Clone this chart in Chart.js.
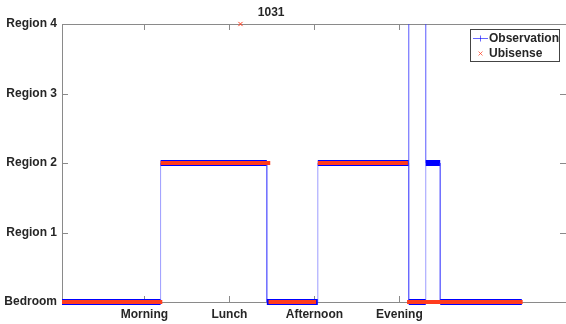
<!DOCTYPE html>
<html>
<head>
<meta charset="utf-8">
<title>1031</title>
<script src="https://cdn.jsdelivr.net/npm/chart.js@4.4.1/dist/chart.umd.min.js"></script>
<style>
  html, body { margin: 0; padding: 0; background: #fff; }
  canvas { display: block; }
</style>
</head>
<body>
<canvas id="chart" width="566" height="324"></canvas>
<script>
// y categories: Bedroom = 0 ... Region 4 = 4
const regionLabels = ['Bedroom', 'Region 1', 'Region 2', 'Region 3', 'Region 4'];
// x ticks (sample index) and their names
const periodTicks = [100, 200, 300, 400];
const periodLabels = ['Morning', 'Lunch', 'Afternoon', 'Evening'];

// Observation: corners of the step line
const obsX = [3, 119, 119, 244, 244, 304, 304, 411, 411, 411, 431, 431, 431, 448, 448, 544];
const obsY = [0, 0, 2, 2, 0, 0, 2, 2, 4, 0, 0, 4, 2, 2, 0, 0];

// Ubisense: runs of readings (start, end, region) plus one stray reading
const ubiStart = [3, 119, 246, 304, 409];
const ubiEnd = [121, 248, 302, 410, 545];
const ubiLevel = [0, 2, 0, 2, 0];
const strayX = [213];
const strayY = [4];

const FONT = "'Liberation Sans', Arial, Helvetica, sans-serif";
const TEXT = '#262626';
const BLUE = '#0000ff';
const RED = '#ff3c1e';

const obsPoints = obsX.map((x, i) => ({ x: x, y: obsY[i] }));

const ubiPoints = [];
ubiStart.forEach((s, i) => {
    ubiPoints.push({ x: s, y: ubiLevel[i] });
    ubiPoints.push({ x: ubiEnd[i], y: ubiLevel[i] });
    ubiPoints.push({ x: ubiEnd[i], y: null });
});
strayX.forEach((x, i) => ubiPoints.push({ x: x, y: strayY[i], stray: true }));

// box, inward ticks, title and legend drawn the matlab way
const frame = {
    id: 'frame',
    beforeDatasetsDraw(chart) {
        const { ctx, chartArea: a, scales: { x, y } } = chart;
        ctx.save();
        ctx.strokeStyle = '#8a8a8a';
        ctx.lineWidth = 1;
        ctx.beginPath();
        ctx.moveTo(a.right, a.top + 0.5);
        ctx.lineTo(a.left + 0.5, a.top + 0.5);
        ctx.lineTo(a.left + 0.5, a.bottom + 0.5);
        ctx.lineTo(a.right, a.bottom + 0.5);
        x.ticks.forEach(t => {
            const px = Math.round(x.getPixelForValue(t.value)) + 0.5;
            ctx.moveTo(px, a.top); ctx.lineTo(px, a.top + 6);
            ctx.moveTo(px, a.bottom); ctx.lineTo(px, a.bottom - 6);
        });
        y.ticks.forEach(t => {
            const py = Math.round(y.getPixelForValue(t.value)) + 0.5;
            ctx.moveTo(a.left, py); ctx.lineTo(a.left + 6, py);
            ctx.moveTo(a.right, py); ctx.lineTo(a.right - 6, py);
        });
        ctx.stroke();
        ctx.restore();
    },
    afterDraw(chart) {
        const { ctx, chartArea: a } = chart;
        ctx.save();
        ctx.font = 'bold 12px ' + FONT;
        ctx.fillStyle = TEXT;
        ctx.textAlign = 'center';
        ctx.textBaseline = 'middle';
        ctx.fillText('1031', a.left + (a.right - a.left) * 0.415, 13);

        // legend box
        const left = a.right - 96, top = a.top + 5;
        ctx.fillStyle = '#fff';
        ctx.fillRect(left, top, 89, 32);
        ctx.strokeStyle = '#444';
        ctx.strokeRect(left + 0.5, top + 0.5, 89, 32);

        const y1 = top + 9.5, y2 = top + 24.5, mx = left + 10.5;
        ctx.strokeStyle = 'rgba(0,0,255,0.6)';
        ctx.beginPath();
        ctx.moveTo(left + 3, y1); ctx.lineTo(left + 18, y1);
        ctx.moveTo(mx, y1 - 3); ctx.lineTo(mx, y1 + 3);
        ctx.stroke();
        ctx.strokeStyle = 'rgba(255,60,30,0.7)';
        ctx.beginPath();
        ctx.moveTo(mx - 2, y2 - 2); ctx.lineTo(mx + 2, y2 + 2);
        ctx.moveTo(mx + 2, y2 - 2); ctx.lineTo(mx - 2, y2 + 2);
        ctx.stroke();

        ctx.fillStyle = TEXT;
        ctx.textAlign = 'left';
        ctx.fillText('Observation', left + 19, y1);
        ctx.fillText('Ubisense', left + 19, y2);
        ctx.restore();
    }
};

new Chart(document.getElementById('chart'), {
    type: 'line',
    data: {
        datasets: [
            {
                label: 'Ubisense',
                data: ubiPoints,
                order: 0,
                borderColor: RED,
                borderWidth: 4,
                spanGaps: false,
                clip: false,
                pointStyle: 'crossRot',
                pointRadius: ctx => (ctx.raw && ctx.raw.stray ? 3 : 0),
                pointHoverRadius: 0,
                pointBorderColor: RED,
                pointBorderWidth: 1
            },
            {
                label: 'Observation',
                data: obsPoints,
                order: 1,
                borderColor: BLUE,
                borderWidth: 6,
                clip: false,
                pointRadius: 0,
                pointHoverRadius: 0,
                segment: {
                    // vertical jumps are the thin line, runs are the dense '+' band
                    borderWidth: c => (c.p0.parsed.x === c.p1.parsed.x ? 1 : 6),
                    borderColor: c => (c.p0.parsed.x === c.p1.parsed.x ? 'rgba(60,60,255,0.5)' : BLUE)
                }
            }
        ]
    },
    options: {
        responsive: false,
        animation: false,
        layout: { autoPadding: false, padding: { top: 24, right: 0, left: 0, bottom: 0 } },
        plugins: {
            legend: { display: false },
            tooltip: { enabled: false },
            title: { display: false }
        },
        scales: {
            x: {
                type: 'linear',
                min: 3,
                max: 596,
                grid: { display: false, drawTicks: false },
                border: { display: false },
                afterBuildTicks: s => { s.ticks = periodTicks.map(v => ({ value: v })); },
                afterFit: s => {
                    s.height = 22;
                    s.paddingLeft = 0;
                    s.paddingRight = 0;
                },
                ticks: {
                    autoSkip: false,
                    maxRotation: 0,
                    padding: 5,
                    color: TEXT,
                    font: { family: FONT, size: 12, weight: 'bold' },
                    callback: v => periodLabels[periodTicks.indexOf(v)]
                }
            },
            y: {
                type: 'linear',
                min: 0,
                max: 4,
                grid: { display: false, drawTicks: false },
                border: { display: false },
                afterFit: s => { s.width = 62; },
                ticks: {
                    stepSize: 1,
                    padding: 5,
                    color: TEXT,
                    font: { family: FONT, size: 12, weight: 'bold' },
                    callback: v => regionLabels[v]
                }
            }
        }
    },
    plugins: [frame]
});
</script>
</body>
</html>
